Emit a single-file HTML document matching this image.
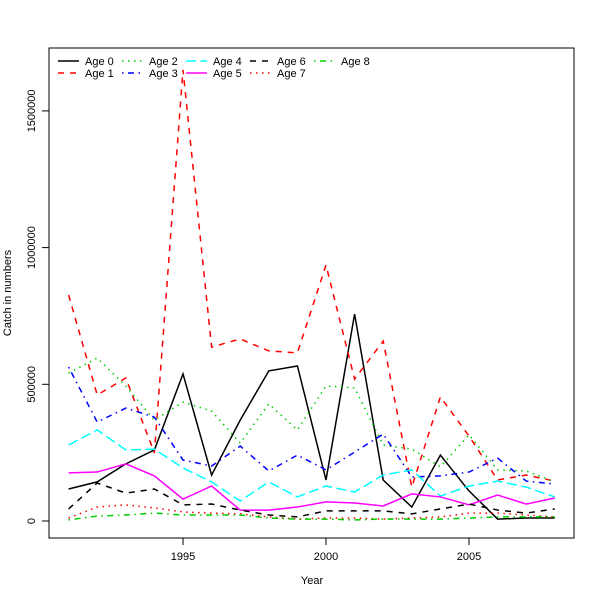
<!DOCTYPE html>
<html><head><meta charset="utf-8"><style>
body{margin:0;background:#fff}
svg text{font-family:"Liberation Sans",sans-serif;font-size:11px;fill:#000}
</style></head><body>
<svg id="chart" width="600" height="600">
<rect x="49" y="48" width="525" height="490" fill="none" stroke="#000"/>
<g id="axes"></g><g id="series"></g><g id="legend"></g>
<text x="312" y="584" text-anchor="middle">Year</text>
<text transform="translate(11,293) rotate(-90)" text-anchor="middle">Catch in numbers</text>
</svg>
<script>
const years=[1991,1992,1993,1994,1995,1996,1997,1998,1999,2000,2001,2002,2003,2004,2005,2006,2007,2008];
const age0=[117e3,143e3,209e3,260e3,538e3,168e3,369e3,549e3,567e3,150e3,757e3,150e3,51e3,241e3,110e3,7e3,11e3,11e3];
const age1=[827e3,461e3,523e3,249e3,1650e3,636e3,666e3,622e3,615e3,936e3,519e3,658e3,124e3,454e3,311e3,150e3,168e3,146e3];
const age2=[541e3,596e3,494e3,369e3,435e3,402e3,285e3,428e3,333e3,494e3,487e3,278e3,263e3,198e3,315e3,187e3,183e3,143e3];
const age3=[563e3,362e3,413e3,380e3,223e3,201e3,274e3,183e3,241e3,187e3,252e3,318e3,161e3,165e3,179e3,230e3,146e3,135e3];
const age4=[278e3,333e3,260e3,263e3,194e3,143e3,73e3,143e3,88e3,128e3,106e3,168e3,187e3,91e3,128e3,146e3,124e3,88e3];
const age5=[176e3,179e3,209e3,165e3,80e3,128e3,40e3,40e3,51e3,70e3,66e3,55e3,99e3,88e3,59e3,95e3,62e3,84e3];
const age6=[44e3,139e3,102e3,117e3,59e3,62e3,40e3,22e3,15e3,37e3,37e3,37e3,26e3,44e3,62e3,40e3,29e3,44e3];
const age7=[11e3,51e3,59e3,48e3,33e3,29e3,26e3,15e3,7e3,11e3,11e3,7e3,11e3,15e3,29e3,29e3,22e3,15e3];
const age8=[4e3,18e3,22e3,29e3,22e3,22e3,22e3,11e3,7e3,7e3,4e3,7e3,7e3,7e3,11e3,15e3,15e3,15e3];
const seriesNames=["Age 0","Age 1","Age 2","Age 3","Age 4","Age 5","Age 6","Age 7","Age 8"];
const xTicks=[1995,2000,2005];
const yTicks=[0,500000,1000000,1500000];
const yTickLabels=["0","500000","1000000","1500000"];

const NS="http://www.w3.org/2000/svg";
const xs=v=>183+(v-1995)*28.6;
const ys=v=>521-v*136.7/500000;
function mk(t,a,p){const e=document.createElementNS(NS,t);for(const k in a)e.setAttribute(k,a[k]);p.appendChild(e);return e;}
const axes=document.getElementById('axes');
xTicks.forEach(t=>{
  const l=mk('line',{x1:xs(t),x2:xs(t),y1:538,y2:545,stroke:'#000'},axes);
  
  
  const tx=mk('text',{x:xs(t),y:560,'text-anchor':'middle'},axes);tx.textContent=t;
  
  
});
mk('line',{x1:xs(1995),x2:xs(2005),y1:538,y2:538,stroke:'#000'},axes);
yTicks.forEach((t,i)=>{
  const l=mk('line',{x1:42,x2:49,y1:ys(t),y2:ys(t),stroke:'#000'},axes);
  
  
  const tx=mk('text',{transform:`translate(35,${ys(t)}) rotate(-90)`,'text-anchor':'middle'},axes);tx.textContent=yTickLabels[i];
  
  
});
mk('line',{x1:49,x2:49,y1:ys(0),y2:ys(1500000),stroke:'#000'},axes);
const data=[age0,age1,age2,age3,age4,age5,age6,age7,age8];
const cols=['#000','#f00','#0c0','#00f','#0ff','#f0f','#000','#f00','#0c0'];
const dashes=['none','6 6','1.5 4.5','1.5 4.5 6 4.5','10 4.5','none','6 6','1.5 4.5','1.5 4.5 6 4.5'];
const sg=document.getElementById('series'),lg=document.getElementById('legend');
data.forEach((d,i)=>{
  const p=mk('polyline',{points:d.map((v,j)=>xs(years[j])+','+ys(v)).join(' '),fill:'none',stroke:cols[i],'stroke-width':1.5,'stroke-dasharray':dashes[i]},sg);
  
  
  const c=Math.floor(i/2),r=i%2,lx=58+c*64,ly=61+r*12;
  const g=mk('g',{},lg);
  
  
  mk('line',{x1:lx,x2:lx+21,y1:ly,y2:ly,stroke:cols[i],'stroke-width':1.5,'stroke-dasharray':dashes[i]},g);
  const t=mk('text',{x:lx+27,y:ly+4},g);t.textContent=seriesNames[i];
});
</script>
</body></html>
